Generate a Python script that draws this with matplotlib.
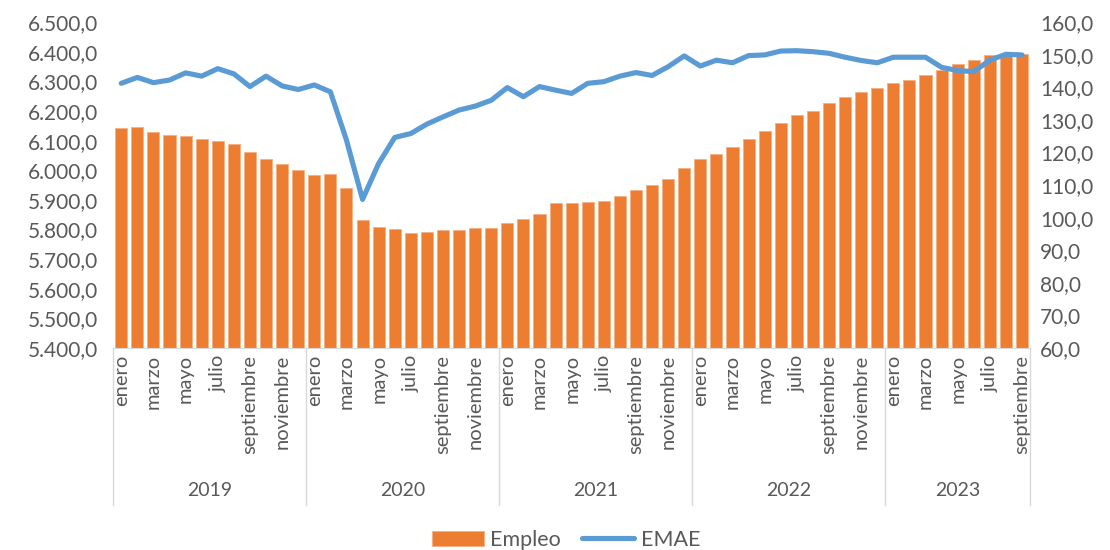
import matplotlib.pyplot as plt
from matplotlib.ticker import FuncFormatter, MultipleLocator
from matplotlib.transforms import blended_transform_factory

plt.rcParams['font.family'] = ['Lato', 'DejaVu Sans']

years = ["2019", "2020", "2021", "2022", "2023"]
months = ["enero", "febrero", "marzo", "abril", "mayo", "junio", "julio", "agosto",
          "septiembre", "octubre", "noviembre", "diciembre"]
months_per_year = [12, 12, 12, 12, 9]

# Empleo (miles), left axis
empleo = [6141, 6145, 6128, 6119, 6114, 6105, 6098, 6089, 6061, 6039, 6020, 6001,
          5984, 5986, 5941, 5832, 5807, 5801, 5788, 5792, 5798, 5799, 5805, 5806,
          5822, 5834, 5854, 5888, 5889, 5893, 5895, 5912, 5934, 5950, 5972, 6008,
          6037, 6055, 6077, 6105, 6131, 6158, 6188, 6200, 6226, 6246, 6264, 6277,
          6294, 6305, 6322, 6338, 6357, 6372, 6389, 6390, 6392]

# EMAE, right axis
emae = [141.2, 143.0, 141.4, 142.2, 144.4, 143.4, 145.7, 144.1, 140.2, 143.4, 140.4, 139.3,
        140.7, 138.6, 123.8, 105.6, 116.6, 124.6, 125.8, 128.7, 130.9, 133.0, 134.2, 136.0,
        139.9, 137.1, 140.2, 139.1, 138.1, 141.2, 141.7, 143.4, 144.5, 143.6, 146.3, 149.6,
        146.5, 148.3, 147.5, 149.7, 149.9, 151.1, 151.2, 150.9, 150.4, 149.2, 148.2, 147.5,
        149.2, 149.2, 149.2, 146.1, 145.1, 144.8, 148.3, 150.1, 149.9]

labels = []
for n in months_per_year:
    for m in months[:n]:
        labels.append(m)
x = list(range(len(labels)))

gray = "#595959"
fig = plt.figure(figsize=(11.1, 5.5), dpi=100)
ax = fig.add_axes([0.102, 0.367, 0.826, 0.593])
ax2 = ax.twinx()

ax.bar(x, empleo, width=0.75, color="#ED7D31", edgecolor="#F4B183", linewidth=0.6,
       label="Empleo", zorder=2)
ax2.plot(x, emae, color="#5B9BD5", linewidth=3.7, solid_joinstyle="round",
         solid_capstyle="round", label="EMAE", zorder=3)

ax.set_ylim(5400, 6500)
ax2.set_ylim(60, 160)
ax.set_xlim(-0.5, len(x) - 0.5)
ax.yaxis.set_major_locator(MultipleLocator(100))
ax2.yaxis.set_major_locator(MultipleLocator(10))


def es_fmt(v, pos):
    s = f"{v:,.1f}"
    return s.replace(",", "X").replace(".", ",").replace("X", ".")


ax.yaxis.set_major_formatter(FuncFormatter(es_fmt))
ax2.yaxis.set_major_formatter(FuncFormatter(es_fmt))

for a in (ax, ax2):
    for side in ("top", "left", "right"):
        a.spines[side].set_visible(False)
    a.spines["bottom"].set_color("#D9D9D9")
    a.tick_params(axis="y", length=0, labelsize=15, labelcolor=gray)
ax.tick_params(axis="y", pad=11)
ax2.tick_params(axis="y", pad=7)
ax2.spines["bottom"].set_visible(False)

show = [i for i, m in enumerate(labels) if m in ("enero", "marzo", "mayo", "julio", "septiembre", "noviembre")]
ax.set_xticks(show)
ax.set_xticklabels([labels[i] for i in show], rotation=90, fontsize=14.5, color=gray)
ax.tick_params(axis="x", length=0, pad=5)

# year groups below the month labels
trans = blended_transform_factory(ax.transData, ax.transAxes)
start = 0
bounds = [-0.5]
for yr, n in zip(years, months_per_year):
    ax.text(start + (n - 1) / 2, -0.435, yr, transform=trans, ha="center", va="center",
            fontsize=14, color=gray)
    start += n
    bounds.append(start - 0.5)
for b in bounds:
    ax.plot([b, b], [0, -0.48], transform=trans, color="#D9D9D9", linewidth=1, clip_on=False)

h1, l1 = ax.get_legend_handles_labels()
h2, l2 = ax2.get_legend_handles_labels()
fig.legend(h1 + h2, l1 + l2, loc="lower center", bbox_to_anchor=(0.51, -0.035), ncol=2,
           frameon=False, fontsize=15.5, labelcolor=gray, handlelength=2.4,
           handletextpad=0.3, columnspacing=1.0)

fig.savefig("out.png", dpi=100)
